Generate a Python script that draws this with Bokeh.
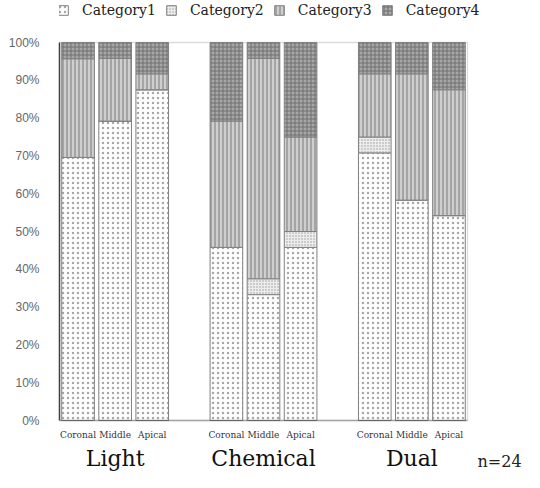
from bokeh.plotting import figure
from bokeh.models import (ColumnDataSource, Range1d, PrintfTickFormatter, LinearAxis,
                          Legend, LegendItem, FixedTicker, BoxAnnotation)
from bokeh.core.properties import value
from bokeh.embed import file_html
from bokeh.resources import INLINE

groups = ["Light", "Chemical", "Dual"]
positions = ["Coronal", "Middle", "Apical"]
categories = ["Category1", "Category2", "Category3", "Category4"]

cat1 = [69.6, 79.2, 87.5, 45.8, 33.3, 45.8, 70.8, 58.3, 54.2]
cat2 = [0.0, 0.0, 0.0, 0.0, 4.2, 4.2, 4.2, 0.0, 0.0]
cat3 = [26.1, 16.6, 4.2, 33.4, 58.3, 25.0, 16.7, 33.4, 33.3]
cat4 = [4.3, 4.2, 8.3, 20.8, 4.2, 25.0, 8.3, 8.3, 12.5]
y_ticks = [0, 10, 20, 30, 40, 50, 60, 70, 80, 90, 100]
note = "n=24"

# slot index of each bar: groups of three separated by one empty slot
xpos = [gi * (len(positions) + 1) + si for gi in range(len(groups)) for si in range(len(positions))]
sub_labels = [s for g in groups for s in positions]
group_x = [gi * (len(positions) + 1) + (len(positions) - 1) / 2 for gi in range(len(groups))]

source = ColumnDataSource(dict(x=xpos, Category1=cat1, Category2=cat2,
                               Category3=cat3, Category4=cat4))

W, H = 524, 472
left = 59
box_top, box_w, box_h = 42, 408, 378

x_lo, x_hi = min(xpos) - 0.5, max(xpos) + 0.5
y_lo, y_hi = 0, 100
px_per_slot = box_w / (x_hi - x_lo)
px_per_unit = box_h / (y_hi - y_lo)
frame_w = W - left
below = H - box_top - box_h

p = figure(width=W, height=H, output_backend="svg", toolbar_location=None,
           x_axis_type=None, y_axis_type=None,
           x_range=Range1d(x_lo, x_lo + frame_w / px_per_slot),
           y_range=Range1d(y_lo - below / px_per_unit, y_hi + box_top / px_per_unit),
           min_border_left=left, min_border_right=0, min_border_top=0,
           min_border_bottom=0)

renderers = p.vbar_stack(
    categories, x="x", width=0.88, source=source,
    line_color="#808080", line_width=1,
    fill_color=["white", "#ececec", "#cfcfcf", "#a8a8a8"],
    hatch_pattern=[".", ".", "|", "+"],
    hatch_scale=[5, 3, 4, 4],
    hatch_color=["#a8a8a8", "#9a9a9a", "#7a7a7a", "#6e6e6e"],
    hatch_weight=[1, 1, 1, 1],
)

legend = Legend(items=[LegendItem(label=c, renderers=[renderers[i]]) for i, c in enumerate(categories)],
                orientation="horizontal", location=(-2, H - 18),
                label_text_font="DejaVu Serif", label_text_font_size="14px",
                label_text_color="#222222", glyph_width=12, glyph_height=12,
                label_height=16, label_standoff=13, spacing=9, padding=0, margin=0,
                border_line_color=None, background_fill_alpha=0)
p.add_layout(legend)

p.xgrid.visible = False
p.ygrid.visible = False
p.outline_line_color = None

# plot box: gray top/right, dark bottom/left
p.add_layout(BoxAnnotation(left=x_lo, right=x_hi, bottom=y_lo, top=y_hi,
                           fill_alpha=0, line_color="#8c8c8c", line_width=1.3))
p.add_layout(BoxAnnotation(left=x_lo, right=x_hi, bottom=y_lo, top=y_lo,
                           fill_alpha=0, line_color="#222222", line_width=1.5))

yax = LinearAxis(bounds=(y_lo, y_hi), ticker=FixedTicker(ticks=y_ticks),
                 formatter=PrintfTickFormatter(format="%d%%"))
yax.major_label_text_font = "Liberation Sans"
yax.major_label_text_font_size = "12px"
yax.major_label_text_color = "#666666"
yax.major_tick_line_color = None
yax.minor_tick_line_color = None
yax.axis_line_color = "#333333"
yax.axis_line_width = 1.5
yax.major_label_standoff = 14
p.add_layout(yax, "left")

sub_y = -14 / px_per_unit
group_y = -38 / px_per_unit
p.text(x=xpos, y=[sub_y] * len(xpos), text=sub_labels, text_font=value("DejaVu Serif"),
       text_font_size="9px", text_color="#333333", text_align="center",
       text_baseline="middle")
p.text(x=group_x, y=[group_y] * len(group_x), text=groups, text_font=value("DejaVu Serif"),
       text_font_size="22px", text_color="#111111", text_align="center",
       text_baseline="middle")
p.text(x=[x_hi + 10 / px_per_slot], y=[group_y - 3 / px_per_unit], text=[note],
       text_font=value("DejaVu Serif"), text_font_size="16px", text_color="#222222",
       text_align="left", text_baseline="middle")

open("out.html", "w").write(file_html(p, INLINE))
